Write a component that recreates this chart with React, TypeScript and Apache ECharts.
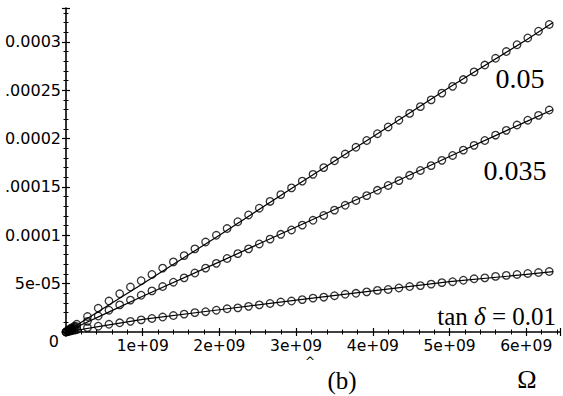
import React, { useEffect, useRef } from "react";
import * as echarts from "echarts";

// Omega in units of 1e9, loss values in units of 1e-5
const omegaScatter = [0, 0.02, 0.04, 0.06, 0.08, 0.11, 0.14, 0.28, 0.42, 0.56, 0.70, 0.84, 0.98, 1.12, 1.26, 1.40, 1.54, 1.68, 1.82, 1.96, 2.10, 2.24, 2.38, 2.52, 2.66, 2.80, 2.94, 3.08, 3.22, 3.36, 3.50, 3.64, 3.78, 3.92, 4.06, 4.20, 4.34, 4.48, 4.62, 4.76, 4.90, 5.04, 5.18, 5.32, 5.46, 5.60, 5.74, 5.88, 6.02, 6.16, 6.30];
const loss005 = [0, 0.12, 0.25, 0.35, 0.45, 0.6, 0.8, 1.6, 2.45, 3.2, 3.95, 4.65, 5.3, 5.95, 6.6, 7.25, 7.9, 8.6, 9.3, 10.0, 10.7, 11.4, 12.1, 12.8, 13.5, 14.2, 14.9, 15.6, 16.3, 17.0, 17.7, 18.4, 19.1, 19.8, 20.5, 21.2, 21.9, 22.6, 23.3, 24.0, 24.7, 25.4, 26.1, 26.9, 27.6, 28.3, 29.0, 29.7, 30.4, 31.1, 31.8];
const loss0035 = [0, 0.09, 0.18, 0.26, 0.33, 0.45, 0.55, 1.1, 1.65, 2.25, 2.8, 3.3, 3.8, 4.25, 4.7, 5.15, 5.6, 6.1, 6.6, 7.1, 7.6, 8.1, 8.6, 9.1, 9.6, 10.1, 10.55, 11.05, 11.55, 12.05, 12.6, 13.1, 13.6, 14.1, 14.65, 15.15, 15.65, 16.2, 16.7, 17.2, 17.75, 18.25, 18.8, 19.3, 19.8, 20.35, 20.85, 21.4, 21.9, 22.4, 22.95];
const loss001 = [0, 0.04, 0.08, 0.12, 0.15, 0.2, 0.25, 0.45, 0.6, 0.8, 0.95, 1.1, 1.25, 1.4, 1.55, 1.7, 1.85, 2.0, 2.1, 2.25, 2.4, 2.5, 2.65, 2.8, 2.95, 3.1, 3.2, 3.35, 3.5, 3.6, 3.75, 3.9, 4.0, 4.15, 4.3, 4.4, 4.55, 4.7, 4.8, 4.95, 5.1, 5.2, 5.35, 5.5, 5.6, 5.75, 5.85, 5.95, 6.05, 6.15, 6.25];

const omegaLine = [0, 0.5, 1, 2, 3, 4, 5, 6, 6.35];
const line005 = [0, 2.5, 5.0, 10.0, 15.15, 20.2, 25.3, 30.2, 32.0];
const line0035 = [0, 1.85, 3.7, 7.25, 10.85, 14.45, 18.15, 21.75, 23.0];
const line001 = [0, 0.65, 1.3, 2.3, 3.3, 4.25, 5.2, 5.95, 6.25];

const xTickLabels = ["", "1e+09", "2e+09", "3e+09", "4e+09", "5e+09", "6e+09"];
const yTickLabels = ["0", "5e-05", "0.0001", ".00015", "0.0002", ".00025", "0.0003"];
const curveLabels = ["0.05", "0.035"];

const X_UNIT = 1e9;
const Y_UNIT = 1e-5;
const X_MAX = 6.44e9;
const Y_MAX = 3.35e-4;

const SANS = "'DejaVu Sans', sans-serif";
const SERIF = "'Liberation Serif', 'Times New Roman', serif";

function pairs(xs: number[], ys: number[]) {
  return xs.map((x, i) => [x * X_UNIT, ys[i] * Y_UNIT]);
}

export default function App() {
  const ref = useRef<HTMLDivElement>(null);

  useEffect(() => {
    if (!ref.current) return;
    const chart = echarts.init(ref.current, null, { renderer: "svg" });

    const xFmt = (v: number) => {
      const i = Math.round(v / 1e9);
      if (Math.abs(v - i * 1e9) > 1e3) return "";
      return xTickLabels[i] ?? "";
    };
    const yFmt = (v: number) => {
      const i = Math.round(v / 5e-5);
      if (Math.abs(v - i * 5e-5) > 1e-9) return "";
      if (i === 0) return "";
      return yTickLabels[i] ?? "";
    };

    const baseX = {
      type: "value" as const,
      min: 0,
      max: X_MAX,
      interval: 1e9,
      position: "bottom" as const,
      offset: 0,
      splitLine: { show: false },
    };
    const baseY = {
      type: "value" as const,
      min: 0,
      max: Y_MAX,
      interval: 5e-5,
      position: "left" as const,
      offset: 0,
      splitLine: { show: false },
    };

    const scatterStyle = {
      type: "scatter" as const,
      symbol: "circle",
      symbolSize: 7.5,
      itemStyle: { color: "rgba(255,255,255,0)", borderColor: "#000", borderWidth: 1.3 },
      z: 2,
      silent: true,
    };
    const lineStyle = {
      type: "line" as const,
      showSymbol: false,
      symbol: "none",
      lineStyle: { color: "#000", width: 1.2 },
      z: 3,
      silent: true,
    };

    chart.setOption({
      animation: false,
      backgroundColor: "#fff",
      grid: { left: 66, right: 0, top: 8, bottom: 64, containLabel: false },
      xAxis: [
        {
          ...baseX,
          axisLine: { show: true, lineStyle: { color: "#000", width: 1.6 } },
          axisTick: { show: true, length: 4, lineStyle: { color: "#000", width: 1.2 } },
          minorTick: { show: true, splitNumber: 5, length: 2.5, lineStyle: { color: "#000", width: 1 } },
          axisLabel: { show: true, margin: 6, formatter: xFmt, color: "#000", fontFamily: SANS, fontSize: 15.5 },
        },
        {
          ...baseX,
          axisLine: { show: false },
          axisTick: { show: true, inside: true, length: 4, lineStyle: { color: "#000", width: 1.2 } },
          minorTick: { show: true, splitNumber: 5, length: 2.5, lineStyle: { color: "#000", width: 1 } },
          axisLabel: { show: false },
        },
      ],
      yAxis: [
        {
          ...baseY,
          axisLine: { show: true, lineStyle: { color: "#000", width: 1.6 } },
          axisTick: { show: true, length: 4, lineStyle: { color: "#000", width: 1.2 } },
          minorTick: { show: true, splitNumber: 5, length: 2.5, lineStyle: { color: "#000", width: 1 } },
          axisLabel: { show: true, margin: 5, formatter: yFmt, color: "#000", fontFamily: SANS, fontSize: 16 },
        },
        {
          ...baseY,
          axisLine: { show: false },
          axisTick: { show: true, inside: true, length: 4, lineStyle: { color: "#000", width: 1.2 } },
          minorTick: { show: true, splitNumber: 5, length: 2.5, lineStyle: { color: "#000", width: 1 } },
          axisLabel: { show: false },
        },
      ],
      series: [
        { ...scatterStyle, name: "0.05 data", data: pairs(omegaScatter, loss005) },
        { ...scatterStyle, name: "0.035 data", data: pairs(omegaScatter, loss0035) },
        { ...scatterStyle, name: "0.01 data", data: pairs(omegaScatter, loss001) },
        { ...lineStyle, name: "0.05", data: pairs(omegaLine, line005) },
        { ...lineStyle, name: "0.035", data: pairs(omegaLine, line0035) },
        { ...lineStyle, name: "0.01", data: pairs(omegaLine, line001) },
      ],
      graphic: [
        {
          type: "text", x: 520, y: 78,
          style: { text: curveLabels[0], font: `28px ${SERIF}`, fill: "#000", textAlign: "center", textVerticalAlign: "middle" },
        },
        {
          type: "text", x: 515, y: 170,
          style: { text: curveLabels[1], font: `28px ${SERIF}`, fill: "#000", textAlign: "center", textVerticalAlign: "middle" },
        },
        {
          type: "text", x: 556, y: 316,
          style: {
            text: "{n|tan }{i|δ}{n| = 0.01}",
            textAlign: "right",
            textVerticalAlign: "middle",
            fill: "#000",
            rich: {
              n: { fontFamily: SERIF, fontSize: 25, fill: "#000" },
              i: { fontFamily: SERIF, fontSize: 25, fontStyle: "italic", fill: "#000" },
            },
          },
        },
        {
          type: "text", x: 342, y: 380,
          style: { text: "(b)", font: `25px ${SERIF}`, fill: "#000", textAlign: "center", textVerticalAlign: "middle" },
        },
        {
          type: "text", x: 527, y: 379,
          style: { text: "Ω", font: `26px ${SERIF}`, fill: "#000", textAlign: "center", textVerticalAlign: "middle" },
        },
        {
          type: "text", x: 310, y: 362,
          style: { text: "^", font: `12px ${SANS}`, fill: "#000", textAlign: "center", textVerticalAlign: "middle" },
        },
        {
          type: "text", x: 59, y: 341,
          style: { text: yTickLabels[0], font: `16px ${SANS}`, fill: "#000", textAlign: "right", textVerticalAlign: "middle" },
        },
      ],
    });

    return () => chart.dispose();
  }, []);

  return (
    <div
      ref={ref}
      style={{ position: "fixed", left: 0, top: 0, width: 563, height: 396, background: "#fff" }}
    />
  );
}
